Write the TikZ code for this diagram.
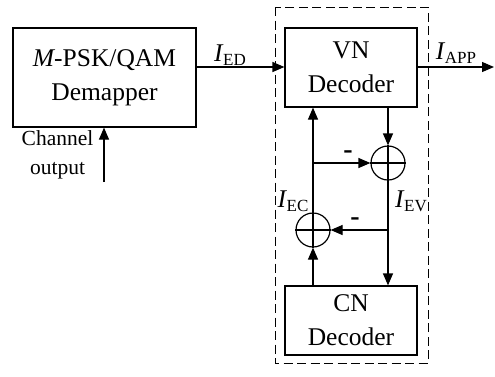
\documentclass[tikz,border=0pt]{standalone}
\usepackage{fontspec}
\setmainfont{Liberation Serif}
\usetikzlibrary{arrows.meta}
\newcommand{\lbl}[2]{{\itshape #1}\kern0.5pt\raisebox{-0.35ex}{\fontsize{17}{17}\selectfont #2}}
\begin{document}
\begin{tikzpicture}[x=1pt,y=-1pt,
  line width=1.2pt,
  txt/.style={font=\fontsize{25.5}{34}\selectfont, align=center},
  blk/.style={draw, rectangle, inner sep=0pt, txt},
  sumc/.style={draw, circle, minimum size=34pt, inner sep=0pt},
  arr/.style={-{Triangle[length=12pt,width=10pt]}},
  minus/.style={font=\fontsize{28}{28}\selectfont\bfseries, inner sep=0pt}]
\useasboundingbox (0,0) rectangle (495,376);
\draw[dash pattern=on 9pt off 4.5pt, line width=1pt] (275,7) rectangle (428,363);
\node[blk, minimum width=183pt, minimum height=99pt] (dem) at (104.5,77.5) {{\itshape M}-PSK/QAM\\Demapper};
\node[blk, minimum width=132pt, minimum height=79pt] (vn) at (351,67.5) {VN\\Decoder};
\node[blk, minimum width=132pt, minimum height=69pt] (cn) at (351,320.5) {CN\\Decoder};
\node[sumc] (s1) at (388,163) {};
\node[sumc] (s2) at (313,230) {};
\draw (s1.north) -- (s1.south) (s1.west) -- (s1.east);
\draw (s2.north) -- (s2.south) (s2.west) -- (s2.east);
\coordinate (ch) at (104,182);
\coordinate (app) at (494,67);
\coordinate (j1) at (313,163);
\coordinate (j2) at (388,230);
\node[txt, font=\fontsize{21.5}{29}\selectfont] (chl) at (57.5,155) {Channel\\output};
\draw[arr] (ch) -- (ch |- dem.south);
\draw[arr] (dem.east |- app) -- (vn.west |- app);
\draw[arr] (vn.east |- app) -- (app);
\draw[arr] (s1 |- vn.south) -- (s1.north);
\draw[arr] (s2.north) -- (s2 |- vn.south);
\draw[arr] (j1) -- (s1.west);
\draw[arr] (s1.south) -- (s1 |- cn.north);
\draw[arr] (j2) -- (s2.east);
\draw[arr] (s2 |- cn.north) -- (s2.south);
\node[txt, anchor=base] (ied) at (230,61) {\lbl{I}{ED}};
\node[txt, anchor=base] (iapp) at (456,59) {\lbl{I}{APP}};
\node[txt, anchor=base] (iec) at (293,207) {\lbl{I}{EC}};
\node[txt, anchor=base] (iev) at (411,207) {\lbl{I}{EV}};
\node[minus] (m1) at (348,155) {-};
\node[minus] (m2) at (355,222) {-};
\end{tikzpicture}
\end{document}
